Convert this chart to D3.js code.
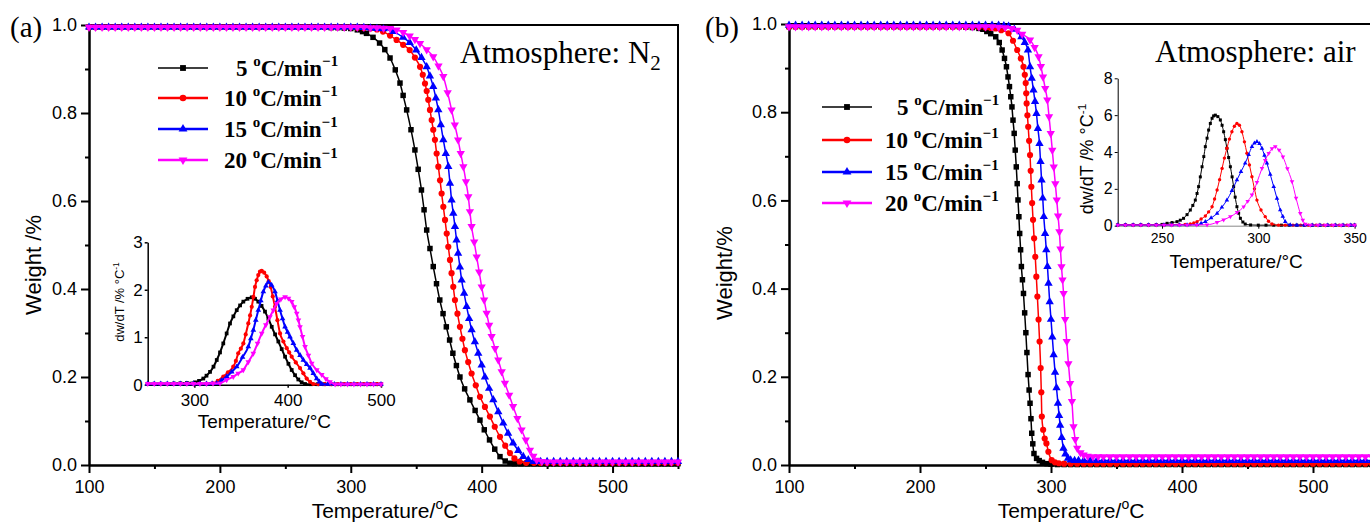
<!DOCTYPE html>
<html>
<head>
<meta charset="utf-8">
<script src="https://cdnjs.cloudflare.com/ajax/libs/d3/7.8.5/d3.min.js"></script>
<style>
  body { margin: 0; background: #ffffff; }
  svg { display: block; }
</style>
</head>
<body>
<div id="graph"></div>
<script>
// ---------------------------------------------------------------
// Data: [temperature (°C), value]
// ---------------------------------------------------------------

// heating rates (legend order)
const RATES = ["5", "10", "15", "20"];

// (a) TGA in N2, weight fraction
const tgaN2_5 = [
  [100,.995],[105,.995],[110,.995],[115,.995],[120,.995],[125,.995],[130,.995],[135,.995],[140,.995],[145,.995],
  [150,.995],[155,.995],[160,.995],[165,.995],[170,.995],[175,.995],[180,.995],[185,.995],[190,.995],[195,.995],
  [200,.995],[205,.995],[210,.995],[215,.995],[220,.995],[225,.995],[230,.995],[235,.995],[240,.995],[245,.995],
  [250,.995],[255,.995],[260,.995],[265,.995],[270,.995],[275,.995],[280,.995],[285,.994],[290,.994],[295,.993],
  [300,.992],[305,.989],[309,.985],[312,.981],[317,.972],[322,.959],[326,.944],[330,.925],[334,.898],[337.6,.868],
  [340,.840],[342.7,.807],[346,.762],[349,.716],[351.5,.672],[354,.625],[356,.580],[358,.534],[360.5,.492],[363,.451],
  [365.5,.412],[368,.375],[370.5,.344],[373,.314],[375.5,.284],[378,.254],[380.7,.226],[383.4,.200],[387,.173],[391,.148],
  [395,.124],[398.7,.102],[402,.080],[406,.057],[410,.036],[414,.019],[418,.009],[421.6,.004],[425,.003],[430,.003],
  [435,.003],[440,.003],[445,.003],[450,.003],[455,.003],[460,.003],[465,.003],[470,.003],[475,.003],[480,.003],
  [485,.003],[490,.003],[495,.003],[500,.003],[505,.003],[510,.003],[515,.003],[520,.003],[525,.003],[530,.003],
  [535,.003],[540,.003],[545,.003],[550,.003]
];
const tgaN2_10 = [
  [100,.995],[105,.995],[110,.995],[115,.995],[120,.995],[125,.995],[130,.995],[135,.995],[140,.995],[145,.995],
  [150,.995],[155,.995],[160,.995],[165,.995],[170,.995],[175,.995],[180,.995],[185,.995],[190,.995],[195,.995],
  [200,.995],[205,.995],[210,.995],[215,.995],[220,.995],[225,.995],[230,.995],[235,.995],[240,.995],[245,.995],
  [250,.995],[255,.995],[260,.995],[265,.995],[270,.995],[275,.995],[280,.995],[285,.995],[290,.995],[295,.995],
  [300,.995],[305,.994],[310,.993],[315,.992],[320,.990],[324.6,.985],[330,.976],[335,.966],[340,.955],[345,.943],
  [349,.926],[352.9,.905],[355,.887],[356.7,.867],[358,.850],[359.2,.830],[360.5,.807],[361.8,.784],[363,.762],[364.3,.739],
  [365.6,.708],[366.9,.678],[368.2,.647],[369.4,.617],[370.7,.587],[372,.557],[373.3,.526],[374.5,.496],[375.8,.466],[377,.436],
  [378.3,.405],[379.6,.375],[381.5,.344],[383.4,.314],[385.3,.287],[387.2,.261],[389.7,.234],[392.3,.208],[395.5,.181],[398.7,.155],
  [402.5,.132],[406.3,.110],[410,.087],[414,.064],[418,.044],[421.6,.027],[425,.015],[429,.008],[434,.005],[440,.005],
  [445,.005],[450,.005],[455,.005],[460,.005],[465,.005],[470,.005],[475,.005],[480,.005],[485,.005],[490,.005],
  [495,.005],[500,.005],[505,.005],[510,.005],[515,.005],[520,.005],[525,.005],[530,.005],[535,.005],[540,.005],
  [545,.005],[550,.005]
];
const tgaN2_15 = [
  [100,.995],[105,.995],[110,.995],[115,.995],[120,.995],[125,.995],[130,.995],[135,.995],[140,.995],[145,.995],
  [150,.995],[155,.995],[160,.995],[165,.995],[170,.995],[175,.995],[180,.995],[185,.995],[190,.995],[195,.995],
  [200,.995],[205,.995],[210,.995],[215,.995],[220,.995],[225,.995],[230,.995],[235,.995],[240,.995],[245,.995],
  [250,.995],[255,.995],[260,.995],[265,.995],[270,.995],[275,.995],[280,.995],[285,.995],[290,.995],[295,.995],
  [300,.995],[305,.995],[310,.994],[315,.993],[320,.992],[325,.991],[332.5,.985],[340,.972],[345,.960],[350,.943],
  [354,.926],[358,.905],[360.5,.884],[363,.860],[365,.834],[366.9,.807],[368.8,.773],[370.7,.739],[372.6,.708],[374.5,.678],
  [375.8,.640],[377,.602],[378.3,.572],[379.6,.542],[380.8,.511],[382,.481],[383.4,.450],[384.7,.420],[386.6,.390],[388.5,.360],
  [390.4,.333],[392.3,.307],[394.8,.280],[397.4,.254],[400,.227],[402.5,.200],[405.7,.174],[408.9,.148],[412.7,.121],[416.5,.095],
  [420.2,.072],[424,.050],[428,.033],[431.8,.019],[435.6,.012],[439.5,.008],[445,.008],[450,.008],[455,.008],[460,.008],
  [465,.008],[470,.008],[475,.008],[480,.008],[485,.008],[490,.008],[495,.008],[500,.008],[505,.008],[510,.008],
  [515,.008],[520,.008],[525,.008],[530,.008],[535,.008],[540,.008],[545,.008],[550,.008]
];
const tgaN2_20 = [
  [100,.995],[105,.995],[110,.995],[115,.995],[120,.995],[125,.995],[130,.995],[135,.995],[140,.995],[145,.995],
  [150,.995],[155,.995],[160,.995],[165,.995],[170,.995],[175,.995],[180,.995],[185,.995],[190,.995],[195,.995],
  [200,.995],[205,.995],[210,.995],[215,.995],[220,.995],[225,.995],[230,.995],[235,.995],[240,.995],[245,.995],
  [250,.995],[255,.995],[260,.995],[265,.995],[270,.995],[275,.995],[280,.995],[285,.995],[290,.995],[295,.995],
  [300,.995],[305,.995],[310,.995],[315,.994],[320,.994],[325,.993],[330,.992],[335,.989],[340,.983],[345,.975],
  [349,.967],[352.9,.958],[358,.944],[363,.928],[367,.907],[370.7,.883],[374,.846],[377,.807],[379.5,.773],[382,.739],
  [384,.708],[386,.678],[388,.644],[389.8,.610],[391,.576],[392.3,.542],[394.3,.507],[396.2,.473],[398.1,.439],[400,.405],
  [401.9,.375],[403.8,.345],[405.7,.318],[407.6,.292],[410.2,.265],[412.7,.239],[415.3,.212],[417.8,.186],[421,.159],[424,.133],
  [427.3,.106],[430.5,.080],[433.7,.057],[436.9,.034],[439.5,.020],[442,.011],[446,.008],[450,.007],[455,.007],[460,.007],
  [465,.007],[470,.007],[475,.007],[480,.007],[485,.007],[490,.007],[495,.007],[500,.007],[505,.007],[510,.007],
  [515,.007],[520,.007],[525,.007],[530,.007],[535,.007],[540,.007],[545,.007],[550,.007]
];

// (a) inset: DTG in N2, %/°C
const dtgN2_5 = [
  [250,.02],[257,.02],[264,.02],[271,.02],[278,.025],[285,.03],[292,.035],[300.7,.05],[305,.08],[309.6,.13],
  [313,.19],[316.8,.27],[320.5,.38],[324,.52],[327.5,.68],[331,.87],[334.6,1.08],[338.2,1.29],[341.8,1.44],[345.4,1.57],
  [349,1.67],[352.5,1.75],[357,1.81],[361.5,1.84],[365,1.81],[368.5,1.75],[372,1.66],[375.7,1.54],[379.3,1.39],[382.9,1.22],
  [386.5,1.06],[390,.91],[393.6,.75],[397.2,.59],[400.8,.44],[404.3,.31],[407.9,.20],[411.4,.11],[415,.05],[418.6,.015],
  [425,.01],[432,.01],[439,.01],[446,.01],[453,.01],[460,.01],[467,.01],[474,.01],[481,.01],[488,.01],[495,.01],[500,.01]
];
const dtgN2_10 = [
  [250,.02],[257,.02],[264,.02],[271,.02],[278,.02],[285,.02],[292,.02],[299,.02],[306,.02],[313,.025],
  [320,.03],[325,.08],[331,.17],[336,.26],[341.7,.38],[344.5,.50],[347,.66],[349.8,.76],[352.5,.87],[355,1.06],
  [357.8,1.29],[359.7,1.46],[361.5,1.64],[363.3,1.85],[365,2.06],[366.8,2.20],[368.5,2.31],[370.3,2.38],[372.2,2.40],[374.8,2.36],
  [377.5,2.28],[379.7,2.18],[381.8,2.06],[384,1.86],[386.4,1.64],[389,1.36],[391.8,1.08],[395.4,.91],[399,.77],[401.6,.68],
  [404.3,.59],[408.7,.47],[413.2,.35],[416.8,.24],[420.4,.13],[424,.06],[427.5,.015],[433,.01],[440,.01],[447,.01],
  [454,.01],[461,.01],[468,.01],[475,.01],[482,.01],[489,.01],[496,.01],[500,.01]
];
const dtgN2_15 = [
  [250,.02],[257,.02],[264,.02],[271,.02],[278,.02],[285,.02],[292,.02],[299,.02],[306,.02],[313,.02],
  [319,.025],[324,.03],[329,.09],[334.7,.17],[340,.27],[345.4,.38],[351.6,.58],[357.8,.80],[360.5,.97],[363.2,1.15],
  [365.8,1.36],[368.5,1.57],[371.2,1.77],[373.9,1.96],[376.6,2.08],[379.3,2.16],[382.8,2.10],[386.4,1.96],[389.1,1.77],[391.8,1.57],
  [394.5,1.39],[397.2,1.22],[399.9,1.11],[402.5,1.01],[406.1,.87],[409.7,.73],[413.3,.62],[416.8,.52],[420.4,.43],[424,.35],
  [427.5,.24],[431.1,.13],[434,.06],[436.5,.015],[443,.01],[450,.01],[457,.01],[464,.01],[471,.01],[478,.01],
  [485,.01],[492,.01],[500,.01]
];
const dtgN2_20 = [
  [250,.02],[257,.02],[264,.02],[271,.02],[278,.02],[285,.02],[292,.02],[299,.02],[306,.02],[313,.02],
  [320,.025],[327.5,.03],[334.6,.10],[341.7,.17],[347,.24],[352.5,.31],[357.8,.48],[363.2,.66],[367.7,.87],[372.2,1.08],
  [376.6,1.26],[381,1.43],[384.6,1.57],[388.2,1.71],[392.7,1.80],[397.2,1.85],[400.8,1.82],[404.3,1.75],[407,1.64],[409.7,1.50],
  [411.5,1.36],[413.2,1.22],[415.9,1.01],[418.6,.80],[422.2,.62],[425.8,.45],[431.2,.31],[436.5,.21],[441,.12],[445.4,.06],
  [450.8,.01],[457,.01],[464,.01],[471,.01],[478,.01],[485,.01],[492,.01],[500,.01]
];

// (b) TGA in air, weight fraction
const tgaAir_5 = [
  [100,.994],[105,.994],[110,.994],[115,.994],[120,.994],[125,.994],[130,.994],[135,.994],[140,.994],[145,.994],
  [150,.994],[155,.994],[160,.994],[165,.994],[170,.994],[175,.994],[180,.994],[185,.994],[190,.994],[195,.994],
  [200,.994],[205,.994],[210,.994],[215,.994],[220,.994],[225,.994],[230,.994],[235,.993],[240,.992],[245,.990],
  [248,.988],[251,.983],[254,.978],[257.8,.971],[260.5,.958],[262.7,.941],[264.5,.922],[266,.903],[267.2,.880],[268.3,.858],
  [269.3,.835],[270.2,.812],[271,.782],[271.9,.752],[272.7,.714],[273.5,.676],[274.2,.638],[274.8,.601],[275.5,.563],[276.1,.525],
  [276.8,.488],[277.4,.450],[278.2,.420],[279,.389],[279.9,.345],[280.8,.300],[281.6,.255],[282.5,.205],[283.3,.170],[284,.140],
  [284.7,.105],[285.3,.072],[286.1,.048],[287,.026],[289,.015],[291,.010],[293.5,.006],[297,.003],[300,.002],[305,.001],
  [310,.001],[315,.001],[320,.001],[325,.001],[330,.001],[335,.001],[340,.001],[345,.001],[350,.001],[355,.001],
  [360,.001],[365,.001],[370,.001],[375,.001],[380,.001],[385,.001],[390,.001],[395,.001],[400,.001],[405,.001],
  [410,.001],[415,.001],[420,.001],[425,.001],[430,.001],[435,.001],[440,.001],[445,.001],[450,.001],[455,.001],
  [460,.001],[465,.001],[470,.001],[475,.001],[480,.001],[485,.001],[490,.001],[495,.001],[500,.001],[505,.001],
  [510,.001],[515,.001],[520,.001],[525,.001],[530,.001],[535,.001],[540,.001],[545,.001],[550,.001]
];
const tgaAir_10 = [
  [100,.994],[105,.994],[110,.994],[115,.994],[120,.994],[125,.994],[130,.994],[135,.994],[140,.994],[145,.994],
  [150,.994],[155,.994],[160,.994],[165,.994],[170,.994],[175,.994],[180,.994],[185,.994],[190,.994],[195,.994],
  [200,.994],[205,.994],[210,.994],[215,.994],[220,.994],[225,.994],[230,.994],[235,.994],[240,.994],[245,.993],
  [250,.992],[254,.991],[257.8,.990],[262,.986],[267.6,.979],[271,.962],[274.2,.941],[277,.922],[279,.903],[280,.885],
  [280.7,.866],[281.1,.843],[281.4,.820],[282,.793],[282.6,.767],[283.3,.735],[284,.703],[284.5,.667],[285,.631],[285.6,.594],
  [286.3,.556],[287.1,.514],[288,.472],[288.8,.427],[289.6,.382],[290.5,.330],[291.3,.280],[292.1,.220],[292.6,.165],[293,.110],
  [294,.080],[295.2,.060],[296.5,.049],[298,.030],[300.5,.011],[303,.006],[306,.004],[310,.003],[315,.003],[320,.003],
  [325,.003],[330,.003],[335,.003],[340,.003],[345,.003],[350,.003],[355,.003],[360,.003],[365,.003],[370,.003],
  [375,.003],[380,.003],[385,.003],[390,.003],[395,.003],[400,.003],[405,.003],[410,.003],[415,.003],[420,.003],
  [425,.003],[430,.003],[435,.003],[440,.003],[445,.003],[450,.003],[455,.003],[460,.003],[465,.003],[470,.003],
  [475,.003],[480,.003],[485,.003],[490,.003],[495,.003],[500,.003],[505,.003],[510,.003],[515,.003],[520,.003],
  [525,.003],[530,.003],[535,.003],[540,.003],[545,.003],[550,.003]
];
const tgaAir_15 = [
  [100,.997],[105,.997],[110,.997],[115,.997],[120,.997],[125,.997],[130,.997],[135,.997],[140,.997],[145,.997],
  [150,.997],[155,.997],[160,.997],[165,.997],[170,.997],[175,.997],[180,.997],[185,.997],[190,.997],[195,.997],
  [200,.997],[205,.997],[210,.997],[215,.997],[220,.997],[225,.997],[230,.997],[235,.997],[240,.997],[245,.997],
  [250,.997],[255,.997],[260,.997],[264,.996],[267.6,.995],[272,.988],[277.4,.971],[280,.958],[282.4,.941],[284,.903],
  [285.3,.877],[286.6,.850],[287.8,.824],[288.9,.797],[290,.763],[291.2,.729],[292,.688],[292.8,.646],[293.7,.605],[294.5,.563],
  [295.5,.525],[296.4,.488],[297.3,.450],[298.1,.412],[299,.370],[300,.330],[301,.290],[302,.250],[303.1,.210],[304.2,.175],
  [305.3,.140],[306.2,.112],[307,.090],[308.2,.062],[309.5,.038],[311,.025],[313,.015],[315,.011],[318,.010],[321,.010],
  [325,.010],[330,.010],[335,.010],[340,.010],[345,.010],[350,.010],[355,.010],[360,.010],[365,.010],[370,.010],
  [375,.010],[380,.010],[385,.010],[390,.010],[395,.010],[400,.010],[405,.010],[410,.010],[415,.010],[420,.010],
  [425,.010],[430,.010],[435,.010],[440,.010],[445,.010],[450,.010],[455,.010],[460,.010],[465,.010],[470,.010],
  [475,.010],[480,.010],[485,.010],[490,.010],[495,.010],[500,.010],[505,.010],[510,.010],[515,.010],[520,.010],
  [525,.010],[530,.010],[535,.010],[540,.010],[545,.010],[550,.010]
];
const tgaAir_20 = [
  [100,.994],[105,.994],[110,.994],[115,.994],[120,.994],[125,.994],[130,.994],[135,.994],[140,.994],[145,.994],
  [150,.994],[155,.994],[160,.994],[165,.994],[170,.994],[175,.994],[180,.994],[185,.994],[190,.994],[195,.994],
  [200,.994],[205,.994],[210,.994],[215,.994],[220,.994],[225,.994],[230,.994],[235,.994],[240,.994],[245,.994],
  [250,.994],[255,.994],[260,.993],[265,.992],[270,.990],[274.2,.986],[278,.977],[284,.964],[287.5,.947],[290.5,.926],
  [292.3,.904],[293.9,.880],[295.6,.854],[297.2,.828],[298.5,.790],[299.8,.752],[301,.714],[302.1,.676],[303.3,.638],[304.4,.601],
  [305.4,.565],[306.4,.529],[307.2,.490],[308,.450],[308.8,.420],[309.6,.389],[310.8,.330],[312,.280],[313.3,.230],[314.6,.185],
  [316,.144],[317.2,.087],[318.5,.058],[320,.038],[322.5,.028],[324.9,.023],[328,.020],[332,.019],[336,.019],[340,.019],
  [345,.019],[350,.019],[355,.019],[360,.019],[365,.019],[370,.019],[375,.019],[380,.019],[385,.019],[390,.019],
  [395,.019],[400,.019],[405,.019],[410,.019],[415,.019],[420,.019],[425,.019],[430,.019],[435,.019],[440,.019],
  [445,.019],[450,.019],[455,.019],[460,.019],[465,.019],[470,.019],[475,.019],[480,.019],[485,.019],[490,.019],
  [495,.019],[500,.019],[505,.019],[510,.019],[515,.019],[520,.019],[525,.019],[530,.019],[535,.019],[540,.019],
  [545,.019],[550,.019]
];

// (b) inset: DTG in air, %/°C
const dtgAir_5 = [
  [227,.05],[231,.05],[235,.05],[239,.05],[243,.05],[247,.06],[250,.07],[252.6,.13],[255.2,.17],[257.8,.22],
  [259.5,.30],[261.2,.40],[263,.60],[264.7,.85],[266,1.10],[267.3,1.39],[268.2,1.75],[269,2.12],[269.9,2.65],[270.8,3.2],
  [271.7,3.75],[272.5,4.29],[273.4,4.75],[274.2,5.19],[275.1,5.55],[276,5.83],[276.8,5.96],[277.7,6.0],[279,5.92],[280.3,5.74],
  [281.2,5.45],[282,5.1],[282.9,4.67],[283.7,4.2],[284.6,3.7],[285.5,3.2],[286.4,2.65],[287.2,2.12],[288,1.55],[288.9,1.03],
  [289.8,.68],[290.7,.40],[292,.20],[293.2,.09],[296,.04],[300,.03],[304,.03],[308,.03],[312,.03],[316,.03],
  [320,.03],[324,.03],[328,.03],[332,.03],[336,.03],[340,.03],[344,.03],[348,.03],[350,.03]
];
const dtgAir_10 = [
  [227,.04],[231,.04],[235,.04],[239,.04],[243,.04],[247,.04],[251,.04],[255,.05],[259,.06],[262,.07],
  [264.7,.09],[266.5,.15],[268.2,.22],[270.3,.36],[272.5,.53],[274.2,.75],[276,1.03],[277.3,1.45],[278.6,1.94],[279.9,2.5],
  [281.2,3.11],[282.4,3.67],[283.7,4.2],[285,4.7],[286.3,5.1],[287.6,5.4],[288.9,5.55],[290.2,5.45],[291.5,5.1],[292.8,4.55],
  [294.1,3.93],[295.4,3.3],[296.7,2.66],[298,2.0],[299.3,1.39],[301.4,.85],[303.6,.49],[305.3,.24],[307.1,.09],[310.5,.03],
  [314,.03],[318,.03],[322,.03],[326,.03],[330,.03],[334,.03],[338,.03],[342,.03],[346,.03],[350,.03]
];
const dtgAir_15 = [
  [227,.04],[231,.04],[235,.04],[239,.04],[243,.04],[247,.04],[251,.04],[255,.04],[259,.04],[263,.04],
  [268.2,.05],[270.3,.12],[272.5,.22],[275.5,.42],[278.6,.67],[281.1,1.0],[283.7,1.39],[286.3,1.9],[288.9,2.48],[291,2.93],
  [293.2,3.39],[295,3.85],[296.7,4.29],[298,4.48],[299.3,4.56],[300.6,4.45],[301.9,4.2],[303.2,3.82],[304.5,3.39],[306.2,2.78],
  [308,2.12],[309.7,1.48],[311.4,.85],[312.7,.50],[314,.22],[316.6,.04],[320,.03],[324,.03],[328,.03],[332,.03],
  [336,.03],[340,.03],[344,.03],[348,.03],[350,.03]
];
const dtgAir_20 = [
  [227,.04],[231,.04],[235,.04],[239,.04],[243,.04],[247,.04],[251,.04],[255,.04],[259,.04],[263,.04],
  [268,.04],[273.4,.05],[278.6,.18],[282,.32],[285.5,.49],[289,.72],[292.4,1.03],[294.5,1.33],[296.7,1.67],[299.3,2.35],
  [301.9,3.11],[303.6,3.55],[305.4,3.93],[307.1,4.18],[308.8,4.29],[310.8,4.1],[312.8,3.74],[315.1,3.1],[317.5,2.39],[319.6,1.5],
  [321.8,.67],[323.1,.30],[324.4,.09],[327,.03],[331,.03],[335,.03],[339,.03],[343,.03],[347,.03],[350,.03]
];

// axis ticks
const mainXTicks = [100, 200, 300, 400, 500];
const mainXMinor = [150, 250, 350, 450, 550];
const mainYTicks = [0, 0.2, 0.4, 0.6, 0.8, 1.0];
const mainYMinor = [0.1, 0.3, 0.5, 0.7, 0.9];
const insetN2XTicks = [300, 400, 500];
const insetN2YTicks = [0, 1, 2, 3];
const insetAirXTicks = [250, 300, 350];
const insetAirYTicks = [0, 2, 4, 6, 8];

// styling per heating rate
const COLORS = ["#000000", "#ff0000", "#0000ff", "#ff00ff"];
const SHAPES = ["square", "circle", "triangle", "triangleDown"];

const SANS = "'Liberation Sans', Arial, sans-serif";
const SERIF = "'Liberation Serif', 'Times New Roman', serif";

let svg = d3.select("#graph")
            .append("svg")
            .attr("width", 1370)
            .attr("height", 522);

create_panel(svg, {
  label: "(a)", labelX: 10,
  left: 89, right: 678, top: 25, bottom: 465, xMax: 550, frameRight: 678,
  series: [tgaN2_5, tgaN2_10, tgaN2_15, tgaN2_20],
  yTitle: "Weight /%", yTitleX: 41, yTitleY: 265, xTitleX: 385,
  legend: {x1: 158, x2: 208, textX: 224, rows: [68, 98, 129, 160]},
  atmosphere: {text: "Atmosphere: N", sub: "2", x: 460, y: 63}
});

create_panel(svg, {
  label: "(b)", labelX: 705,
  left: 789, right: 1378.5, top: 24, bottom: 465, xMax: 550, frameRight: null,
  series: [tgaAir_5, tgaAir_10, tgaAir_15, tgaAir_20],
  yTitle: "Weight/%", yTitleX: 732, yTitleY: 273, xTitleX: 1071,
  legend: {x1: 822, x2: 872, textX: 885, rows: [107, 140, 172, 203]},
  atmosphere: {text: "Atmosphere: air", sub: null, x: 1155, y: 62}
});

create_inset(svg, {
  xDomain: [250, 500], yDomain: [0, 3],
  left: 147.7, right: 381, top: 242.3, bottom: 384.7,
  xTicks: insetN2XTicks, yTicks: insetN2YTicks,
  series: [dtgN2_5, dtgN2_10, dtgN2_15, dtgN2_20],
  lineWidth: 2, markerSize: 14, axisWidth: 1.5, xAxisColor: "#000",
  tickFont: 17, xTickPad: 6, titleFont: 19, titleY: 428,
  yTitleFont: 13, yTitleX: 124, yTitleY: 302
});

create_inset(svg, {
  xDomain: [227, 350], yDomain: [0, 8],
  left: 1117.7, right: 1354.6, top: 78.3, bottom: 225.7,
  xTicks: insetAirXTicks, yTicks: insetAirYTicks,
  series: [dtgAir_5, dtgAir_10, dtgAir_15, dtgAir_20],
  lineWidth: 1, markerSize: 9, axisWidth: 1, xAxisColor: "#888",
  tickFont: 14, yTickFont: 16, xTickPad: 4, titleFont: 19, titleY: 268,
  yTitleFont: 18, yTitleX: 1093, yTitleY: 159
});

/**
 * Returns the path string of a marker.
 *
 * @param  shape {string}  square | circle | triangle | triangleDown
 *         size  {number}  symbol area
 */
function marker_path(shape, size) {
  let type = d3.symbolTriangle;
  if (shape === "square") type = d3.symbolSquare;
  if (shape === "circle") type = d3.symbolCircle;
  return d3.symbol().type(type).size(size)();
}

/**
 * Draws one line with its markers.
 */
function plot_series(g, x, y, data, i, lineWidth, markerSize) {
  let line = d3.line()
               .x(d => x(d[0]))
               .y(d => y(d[1]))
               .curve(d3.curveMonotoneX);

  g.append("path")
   .datum(data)
   .attr("d", line)
   .attr("fill", "none")
   .attr("stroke", COLORS[i])
   .attr("stroke-width", lineWidth);

  let path = marker_path(SHAPES[i], markerSize);
  g.append("g")
   .selectAll("path")
   .data(data)
   .enter().append("path")
   .attr("d", path)
   .attr("fill", COLORS[i])
   .attr("transform", d => "translate(" + x(d[0]) + "," + y(d[1]) + ")" +
                           (SHAPES[i] === "triangleDown" ? " rotate(180)" : ""));
}

/**
 * Styles an axis group: line widths and fonts.
 */
function style_axis(axisG, width, color, fontSize) {
  axisG.select(".domain").attr("stroke", color).attr("stroke-width", width);
  axisG.selectAll(".tick line").attr("stroke", "#000").attr("stroke-width", width);
  axisG.selectAll(".tick text")
       .attr("fill", "#000")
       .attr("font-family", SANS)
       .attr("font-size", fontSize);
}

/**
 * Main TGA panel: frame, axes, curves, legend and titles.
 *
 * @param  svg {svg object}
 *         p   {object}     layout of the panel
 */
function create_panel(svg, p) {
  let x = d3.scaleLinear().domain([100, p.xMax]).range([p.left, p.right]);
  let y = d3.scaleLinear().domain([0, 1]).range([p.bottom, p.top]);
  let g = svg.append("g");

  // Frame: top edge (and right edge when visible)
  let frame = "M" + p.left + "," + p.top + "H" + p.right;
  if (p.frameRight !== null) frame += "V" + p.bottom;
  g.append("path")
   .attr("d", frame)
   .attr("fill", "none")
   .attr("stroke", "#000")
   .attr("stroke-width", 2);

  // Minor ticks
  let xMinor = g.append("g")
                .attr("transform", "translate(0," + p.bottom + ")")
                .call(d3.axisBottom(x).tickValues(mainXMinor).tickSize(4).tickSizeOuter(0).tickFormat(""));
  style_axis(xMinor, 2, "#000", 18);
  let yMinor = g.append("g")
                .attr("transform", "translate(" + p.left + ",0)")
                .call(d3.axisLeft(y).tickValues(mainYMinor).tickSize(4).tickSizeOuter(0).tickFormat(""));
  style_axis(yMinor, 2, "#000", 18);

  // Major ticks with labels
  let xAxis = g.append("g")
               .attr("transform", "translate(0," + p.bottom + ")")
               .call(d3.axisBottom(x).tickValues(mainXTicks).tickSize(8).tickPadding(7).tickSizeOuter(0));
  style_axis(xAxis, 2, "#000", 18);
  let yAxis = g.append("g")
               .attr("transform", "translate(" + p.left + ",0)")
               .call(d3.axisLeft(y).tickValues(mainYTicks).tickSize(8).tickPadding(4)
                       .tickSizeOuter(0).tickFormat(d3.format(".1f")));
  style_axis(yAxis, 2, "#000", 18);

  // Curves, magenta on top
  p.series.forEach((s, i) => plot_series(g, x, y, s, i, 1.5, 30));

  // Panel label
  g.append("text")
   .attr("x", p.labelX)
   .attr("y", 37)
   .attr("font-family", SERIF)
   .attr("font-size", 29)
   .text(p.label);

  // Axis titles
  let xt = g.append("text")
            .attr("x", p.xTitleX)
            .attr("y", 518)
            .attr("text-anchor", "middle")
            .attr("font-family", SANS)
            .attr("font-size", 21);
  xt.append("tspan").text("Temperature/");
  xt.append("tspan").attr("font-size", 14).attr("dy", -9).text("o");
  xt.append("tspan").attr("dy", 9).text("C");

  g.append("text")
   .attr("transform", "translate(" + p.yTitleX + "," + p.yTitleY + ") rotate(-90)")
   .attr("text-anchor", "middle")
   .attr("font-family", SANS)
   .attr("font-size", 22)
   .text(p.yTitle);

  // Atmosphere note
  let at = g.append("text")
            .attr("x", p.atmosphere.x)
            .attr("y", p.atmosphere.y)
            .attr("font-family", SERIF)
            .attr("font-size", 31)
            .text(p.atmosphere.text);
  if (p.atmosphere.sub) {
    at.append("tspan").attr("font-size", 21).attr("dy", 7).text(p.atmosphere.sub);
  }

  draw_legend(g, p.legend);
}

/**
 * Legend: line + marker + "N °C/min-1" label in bold serif.
 */
function draw_legend(g, lg) {
  RATES.forEach((rate, i) => {
    let yy = lg.rows[i];
    g.append("line")
     .attr("x1", lg.x1).attr("x2", lg.x2)
     .attr("y1", yy).attr("y2", yy)
     .attr("stroke", COLORS[i])
     .attr("stroke-width", i === 0 ? 1.5 : 2.5);
    g.append("path")
     .attr("d", marker_path(SHAPES[i], 34))
     .attr("fill", COLORS[i])
     .attr("transform", "translate(" + (lg.x1 + lg.x2) / 2 + "," + yy + ")" +
                        (SHAPES[i] === "triangleDown" ? " rotate(180)" : ""));

    let t = g.append("text")
             .attr("x", lg.textX + (rate.length === 1 ? 12 : 0))
             .attr("y", yy + 8)
             .attr("font-family", SERIF)
             .attr("font-weight", "bold")
             .attr("font-size", 23);
    t.append("tspan").text(rate + " ");
    t.append("tspan").attr("font-size", 15).attr("dy", -10).text("o");
    t.append("tspan").attr("dy", 10).text("C/min");
    t.append("tspan").attr("font-size", 15).attr("dy", -10).text("\u22121");
  });
}

/**
 * DTG inset: left and bottom axes only.
 */
function create_inset(svg, p) {
  let x = d3.scaleLinear().domain(p.xDomain).range([p.left, p.right]);
  let y = d3.scaleLinear().domain(p.yDomain).range([p.bottom, p.top]);
  let g = svg.append("g");

  let xAxis = g.append("g")
               .attr("transform", "translate(0," + p.bottom + ")")
               .call(d3.axisBottom(x).tickValues(p.xTicks).tickSize(3).tickPadding(p.xTickPad)
                       .tickSizeOuter(0).tickFormat(d3.format("d")));
  style_axis(xAxis, p.axisWidth, p.xAxisColor, p.tickFont);
  let yAxis = g.append("g")
               .attr("transform", "translate(" + p.left + ",0)")
               .call(d3.axisLeft(y).tickValues(p.yTicks).tickSize(3).tickPadding(2)
                       .tickSizeOuter(0).tickFormat(d3.format("d")));
  style_axis(yAxis, p.axisWidth, "#000", p.yTickFont || p.tickFont);

  p.series.forEach((s, i) => plot_series(g, x, y, s, i, p.lineWidth, p.markerSize));

  g.append("text")
   .attr("x", (p.left + p.right) / 2)
   .attr("y", p.titleY)
   .attr("text-anchor", "middle")
   .attr("font-family", SANS)
   .attr("font-size", p.titleFont)
   .text("Temperature/\u00b0C");

  let yt = g.append("text")
            .attr("transform", "translate(" + p.yTitleX + "," + p.yTitleY + ") rotate(-90)")
            .attr("text-anchor", "middle")
            .attr("font-family", SANS)
            .attr("font-size", p.yTitleFont);
  yt.append("tspan").text("dw/dT /% \u00b0C");
  yt.append("tspan").attr("font-size", p.yTitleFont * 0.65).attr("dy", -p.yTitleFont * 0.4).text("-1");
}
</script>
</body>
</html>
